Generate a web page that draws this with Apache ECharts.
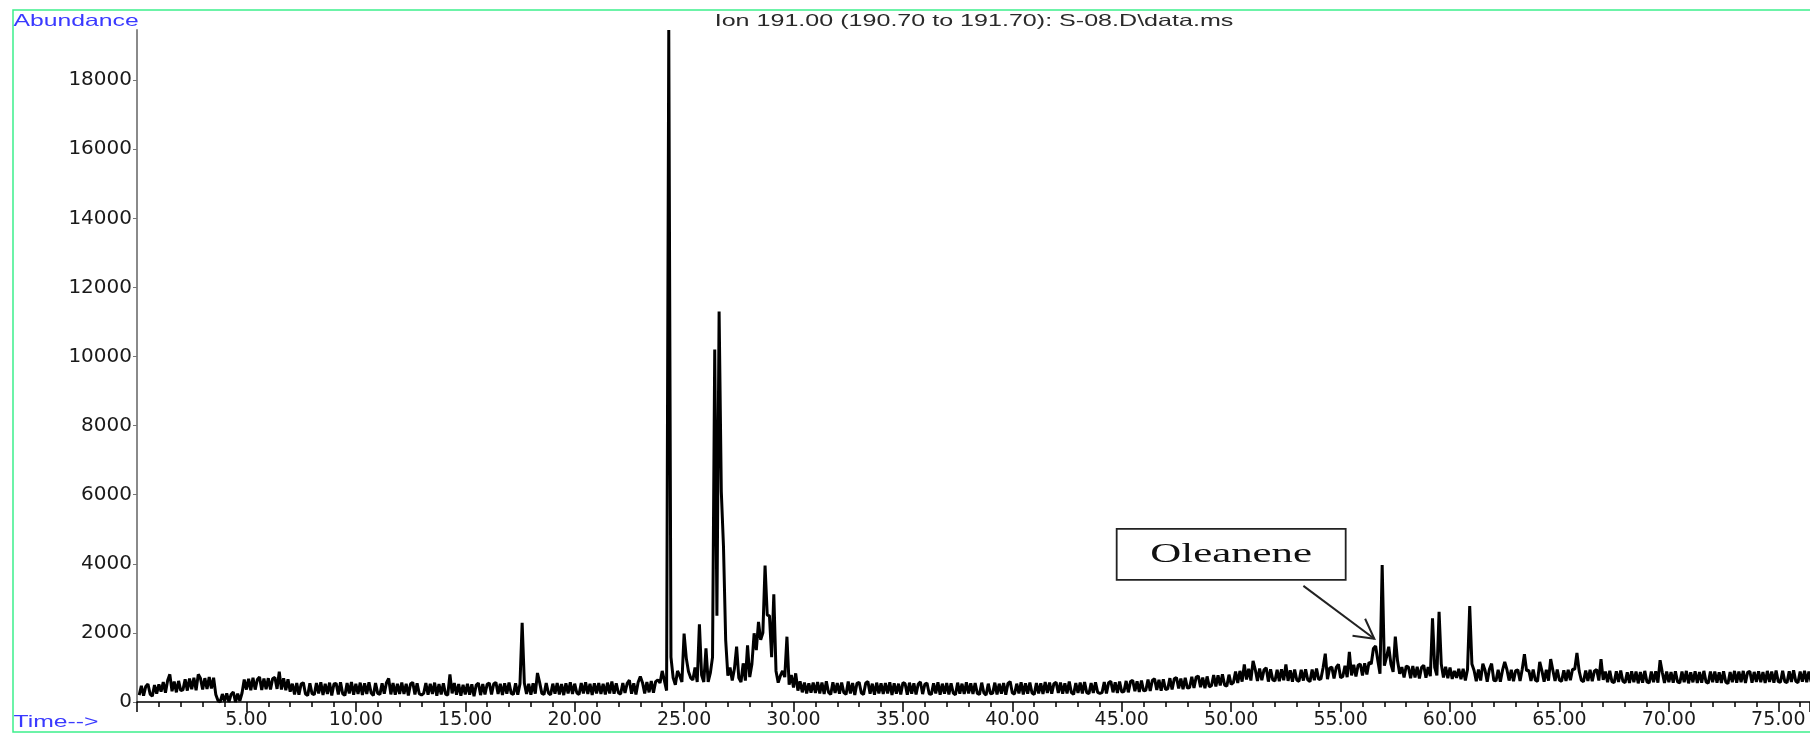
<!DOCTYPE html>
<html>
<head>
<meta charset="utf-8">
<script src="https://cdn.jsdelivr.net/npm/echarts@6/dist/echarts.min.js"></script>
<style>
html,body{margin:0;padding:0;background:#fff;}
#chart{width:1810px;height:733px;}
</style>
</head>
<body>
<div id="chart"></div>
<script>
// ---- data ----
const chartTitle = 'Ion 191.00 (190.70 to 191.70): S-08.D\\data.ms';
const yAxisName = 'Abundance';
const xAxisName = 'Time-->';
const yTickValues = [0, 2000, 4000, 6000, 8000, 10000, 12000, 14000, 16000, 18000];
const xTickLabels = ['5.00','10.00','15.00','20.00','25.00','30.00','35.00','40.00','45.00','50.00','55.00','60.00','65.00','70.00','75.00'];
const startTime = 0.1;   // minutes, first scan shown
const timeStep = 0.1;    // minutes between listed readings
// abundance readings, one row per minute (t = row+0.1 ... row+1.0)
const abundance = [
  200, 470, 180, 450, 520, 230, 170, 490, 240, 510,
  300, 580, 270, 620, 800, 310, 590, 280, 610, 330,
  350, 660, 330, 680, 370, 700, 340, 800, 690, 360,
  690, 380, 720, 390, 700, 220, 40, 0, 230, 20,
  250, 0, 220, 290, 0, 240, 30, 260, 650, 360,
  670, 340, 700, 360, 650, 720, 350, 680, 370, 690,
  360, 680, 710, 380, 880, 360, 690, 340, 660, 300,
  530, 220, 550, 210, 520, 560, 230, 190, 540, 240,
  210, 550, 250, 570, 200, 530, 230, 560, 190, 520,
  540, 220, 570, 240, 190, 550, 250, 580, 210, 530,
  230, 560, 200, 540, 230, 570, 260, 190, 550, 250,
  220, 540, 240, 560, 680, 220, 550, 210, 530, 230,
  560, 230, 530, 190, 520, 570, 220, 540, 240, 200,
  250, 550, 210, 530, 230, 560, 180, 520, 220, 540,
  230, 200, 800, 250, 550, 210, 520, 180, 500, 220,
  530, 210, 510, 170, 490, 550, 200, 520, 220, 510,
  550, 220, 520, 570, 230, 530, 200, 540, 240, 560,
  250, 220, 540, 210, 520, 2290, 550, 230, 530, 210,
  540, 240, 840, 560, 250, 220, 550, 260, 210, 530,
  240, 550, 220, 520, 200, 540, 250, 570, 230, 530,
  260, 220, 550, 250, 570, 230, 530, 200, 540, 250,
  550, 230, 530, 220, 560, 250, 590, 240, 540, 260,
  230, 550, 260, 540, 630, 240, 540, 220, 570, 740,
  560, 250, 580, 280, 610, 270, 590, 640, 550, 900,
  620, 330, 19450, 1300, 700, 500, 900, 760, 580, 1980,
  1270, 880, 700, 640, 1000, 580, 2250, 780, 580, 1550,
  580, 840, 1300, 10200, 2500, 11300, 6100, 4500, 1800, 760,
  1000, 620, 960, 1600, 700, 580, 1120, 620, 1640, 720,
  1100, 1990, 1500, 2320, 1800, 2000, 3950, 2510, 2500, 1300,
  3120, 900, 560, 760, 900, 720, 1890, 500, 780, 420,
  830, 330, 600, 280, 560, 250, 540, 270, 560, 260,
  580, 250, 560, 230, 600, 280, 220, 570, 260, 550,
  240, 560, 270, 220, 590, 250, 550, 200, 540, 570,
  260, 220, 550, 590, 240, 530, 210, 560, 250, 540,
  230, 550, 250, 570, 200, 540, 240, 530, 220, 560,
  530, 210, 560, 240, 540, 220, 520, 580, 230, 510,
  550, 240, 220, 540, 250, 570, 210, 530, 240, 550,
  220, 540, 260, 210, 560, 240, 530, 230, 570, 250,
  540, 230, 550, 250, 220, 560, 260, 200, 530, 240,
  250, 560, 220, 530, 240, 550, 210, 540, 590, 260,
  230, 530, 250, 570, 220, 540, 240, 560, 260, 220,
  550, 250, 540, 230, 580, 260, 560, 240, 530, 570,
  260, 560, 240, 540, 250, 590, 270, 220, 550, 260,
  560, 250, 580, 270, 240, 550, 260, 570, 280, 250,
  270, 580, 250, 560, 600, 280, 570, 260, 590, 290,
  300, 610, 280, 590, 630, 310, 600, 290, 620, 320,
  340, 650, 320, 630, 670, 350, 640, 330, 660, 360,
  380, 690, 360, 670, 710, 390, 680, 370, 700, 400,
  420, 730, 410, 720, 750, 430, 710, 400, 740, 440,
  470, 780, 450, 770, 480, 800, 490, 460, 790, 510,
  560, 880, 550, 900, 590, 1090, 650, 960, 620, 1190,
  940, 610, 970, 630, 930, 990, 590, 950, 640, 610,
  930, 600, 950, 630, 1090, 610, 920, 590, 940, 630,
  600, 930, 620, 950, 640, 590, 940, 630, 970, 650,
  670, 990, 1400, 660, 980, 1010, 680, 1000, 1090, 700,
  740, 1050, 720, 1450, 770, 1080, 740, 1060, 1100, 770,
  1120, 800, 1150, 1100, 1550, 1620, 1200, 820, 3965, 1050,
  1300, 1600, 1100, 870, 1890, 1200, 820, 1010, 710, 1040,
  1010, 690, 1040, 710, 1020, 680, 1000, 1060, 700, 1010,
  750, 2420, 1000, 770, 2610, 1100, 710, 1020, 690, 1000,
  670, 900, 700, 960, 660, 960, 620, 940, 2780, 1100,
  910, 600, 940, 620, 1110, 920, 590, 950, 1110, 630,
  610, 930, 590, 920, 1160, 940, 620, 930, 600, 910,
  930, 610, 950, 1380, 900, 920, 610, 940, 630, 600,
  1160, 900, 590, 930, 620, 1240, 920, 610, 940, 630,
  600, 920, 610, 930, 630, 950, 950, 1420, 900, 630,
  590, 910, 610, 930, 600, 900, 940, 620, 1240, 640,
  880, 570, 900, 590, 560, 890, 580, 910, 600, 560,
  860, 550, 890, 570, 880, 540, 870, 560, 900, 580,
  550, 880, 570, 890, 560, 1210, 860, 550, 880, 570,
  870, 560, 890, 580, 550, 880, 570, 900, 540, 860,
  570, 890, 550, 870, 560, 900, 580, 540, 880, 570,
  880, 560, 860, 550, 890, 580, 530, 870, 570, 900,
  560, 880, 570, 900, 550, 860, 890, 560, 870, 580,
  890, 570, 870, 550, 900, 580, 880, 560, 910, 590,
  570, 900, 590, 560, 890, 580, 920, 600, 560, 880,
  590, 900, 570, 880, 580
];
// annotation, in data units (time, abundance)
const annotationText = 'Oleanene';
const annotationBoxAt = [50.0, 4270];
const annotationArrowFrom = [53.3, 3360];
const annotationArrowTo = [56.54, 1830];

// ---- chart ----
const seriesData = abundance.map((v, i) => [+(startTime + i * timeStep).toFixed(2), v]);
const chart = echarts.init(document.getElementById('chart'), null, {renderer: 'canvas'});
const labelFont = 'DejaVu Sans';
const option = {
  animation: false,
  backgroundColor: '#ffffff',
  grid: {left: 137, right: 0, top: 30, bottom: 31, containLabel: false, outerBoundsMode: 'none'},
  xAxis: {
    type: 'value', min: 0, max: 76.45, interval: 5,
    axisLine: {onZero: false, lineStyle: {color: '#000', width: 1.5}},
    axisTick: {show: true, length: 10, lineStyle: {color: '#000', width: 1.5}},
    minorTick: {show: true, splitNumber: 5, length: 5, lineStyle: {color: '#000', width: 1.5}},
    splitLine: {show: false},
    axisLabel: {
      margin: 9, fontFamily: labelFont, fontSize: 19, color: '#1a1a1a',
      showMaxLabel: false,
      formatter: v => xTickLabels.find(s => Math.abs(parseFloat(s) - v) < 1e-6) || ''
    }
  },
  yAxis: {
    type: 'value', min: 0, max: 19450, interval: 2000,
    axisLine: {show: true, lineStyle: {color: '#8a8a8a', width: 2}},
    axisTick: {show: true, length: 4, lineStyle: {color: '#777', width: 1}},
    splitLine: {show: false},
    axisLabel: {
      margin: 5, fontFamily: labelFont, fontSize: 20, color: '#1a1a1a',
      showMaxLabel: false,
      formatter: v => (yTickValues.indexOf(v) >= 0 ? String(v) : '')
    }
  },
  series: [{
    type: 'line', data: seriesData, showSymbol: false, symbol: 'none',
    lineStyle: {color: '#000', width: 3, join: 'bevel'}, silent: true
  }]
};
chart.setOption(option);

// overlay texts, frame and annotation (positions of annotation derived from data units)
const boxC = chart.convertToPixel({gridIndex: 0}, annotationBoxAt);
const aFrom = chart.convertToPixel({gridIndex: 0}, annotationArrowFrom);
const aTo = chart.convertToPixel({gridIndex: 0}, annotationArrowTo);
const ang = Math.atan2(aFrom[1] - aTo[1], aFrom[0] - aTo[0]);
const headLen = 22, headSpread = 0.5;
const h1 = [aTo[0] + headLen * Math.cos(ang + headSpread), aTo[1] + headLen * Math.sin(ang + headSpread)];
const h2 = [aTo[0] + headLen * Math.cos(ang - headSpread), aTo[1] + headLen * Math.sin(ang - headSpread)];
const boxW = 229, boxH = 51;

chart.setOption({
  graphic: [
    {type: 'rect', shape: {x: 13, y: 10, width: 1820, height: 722}, silent: true,
     style: {fill: null, stroke: '#3cf08c', lineWidth: 1.5}, z: 0},
    {type: 'text', x: 974, y: 21, scaleX: 1.52, silent: true,
     style: {text: chartTitle, fontFamily: 'Liberation Sans', fontSize: 16.5, fill: '#2a2a2a', align: 'center', verticalAlign: 'middle'}},
    {type: 'text', x: 13.5, y: 21, scaleX: 1.5, silent: true,
     style: {text: yAxisName, fontFamily: 'Liberation Sans', fontSize: 16.5, fill: '#3a3aff', align: 'left', verticalAlign: 'middle'}},
    {type: 'text', x: 13.5, y: 722, scaleX: 1.5, silent: true,
     style: {text: xAxisName, fontFamily: 'Liberation Sans', fontSize: 16.5, fill: '#3a3aff', align: 'left', verticalAlign: 'middle'}},
    {type: 'rect', shape: {x: boxC[0] - boxW / 2, y: boxC[1] - boxH / 2, width: boxW, height: boxH}, silent: true,
     style: {fill: '#fff', stroke: '#222', lineWidth: 1.8}, z: 10},
    {type: 'text', x: boxC[0], y: boxC[1], scaleX: 1.53, silent: true, z: 11,
     style: {text: annotationText, fontFamily: 'Liberation Serif', fontSize: 28, fill: '#111', align: 'center', verticalAlign: 'middle'}},
    {type: 'polyline', shape: {points: [aFrom, aTo]}, silent: true, z: 10,
     style: {stroke: '#222', lineWidth: 2, fill: null}},
    {type: 'polyline', shape: {points: [h1, aTo, h2]}, silent: true, z: 10,
     style: {stroke: '#222', lineWidth: 2, fill: null}}
  ]
});
</script>
</body>
</html>
